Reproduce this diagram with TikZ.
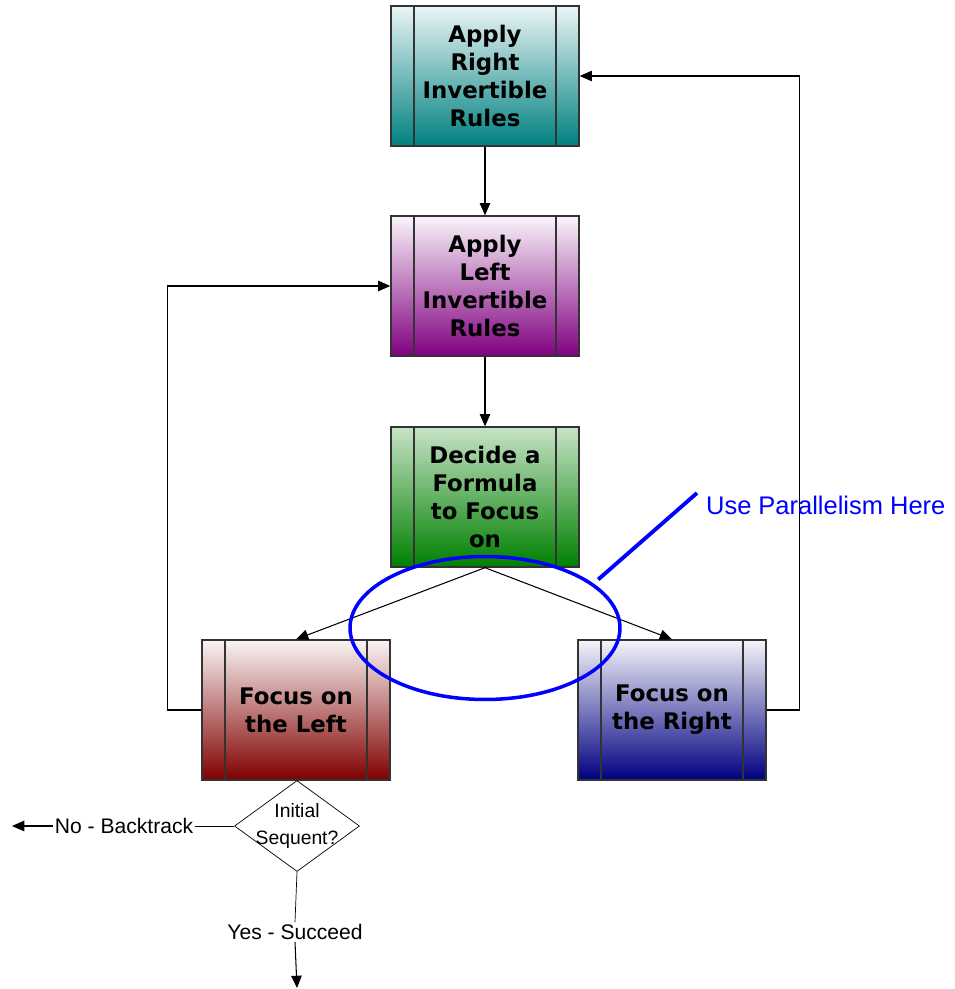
\documentclass[tikz,border=0pt]{standalone}
\usepackage{fontspec}
\setmainfont{Liberation Sans}
\newfontfamily\boxfont{DejaVu Sans}
\usetikzlibrary{arrows.meta,positioning,shapes.geometric}
\definecolor{ruleTeal}{HTML}{008080}
\definecolor{rulePurple}{HTML}{800080}
\definecolor{ruleGreen}{HTML}{008000}
\definecolor{ruleRed}{HTML}{800000}
\definecolor{ruleNavy}{HTML}{000080}
\definecolor{noteBlue}{HTML}{0000FF}

\begin{document}
\begin{tikzpicture}[x=0.02cm, y=-0.02cm,
  procbox/.style={draw=black!80, line width=0.8pt, minimum width=3.76cm, minimum height=2.8cm, align=center,
    font=\boxfont\bfseries\fontsize{13}{16}\selectfont,
    path picture={\draw[black!80, line width=0.8pt]
      ([xshift=0.46cm]path picture bounding box.north west) -- ([xshift=0.46cm]path picture bounding box.south west)
      ([xshift=-0.46cm]path picture bounding box.north east) -- ([xshift=-0.46cm]path picture bounding box.south east);}},
  flow/.style={-{Triangle[length=7pt,width=6pt]}, line width=0.6pt},
  smalltext/.style={inner sep=1pt, font=\fontsize{12}{14}\selectfont}]
\useasboundingbox (0,0) rectangle (955,989);
% the rule boxes
\node[procbox, top color=ruleTeal!8, bottom color=ruleTeal] (rightinv) at (485,76) {Apply\\Right\\Invertible\\Rules};
\node[procbox, top color=rulePurple!4, bottom color=rulePurple] (leftinv) at (485,286) {Apply\\Left\\Invertible\\Rules};
\node[procbox, top color=ruleGreen!22, bottom color=ruleGreen] (decide) at (485,497) {Decide a\\Formula\\to Focus\\on};
\node[procbox, top color=ruleRed!4, bottom color=ruleRed] (focusL) at (296,710) {Focus on\\the Left};
\node[procbox, top color=ruleNavy!4, bottom color=ruleNavy] (focusR) at (672,710) {Focus on\\the Right};
% initial sequent test
\node[draw, diamond, aspect=1.36, inner sep=-6pt, minimum width=2.5cm, minimum height=1.82cm, align=center,
  font=\fontsize{11}{15}\selectfont] (initial) at (297,826) {Initial\\Sequent?};
\node[smalltext] (backtrack) at (124,826) {No - Backtrack};
\node[smalltext] (succeed) at (295,932) {Yes - Succeed};
\coordinate (btend) at (12,826);
\coordinate (scend) at (297,988);
% connectors
\draw[flow] (rightinv) -- (leftinv);
\draw[flow] (leftinv) -- (decide);
\draw[flow] (decide.south) -- (focusL.north);
\draw[flow] (decide.south) -- (focusR.north);
\draw[flow] (focusR.east) -- ++(33,0) |- (rightinv.east);
\draw[flow] (focusL.west) -- ++(-34,0) |- (leftinv.west);
\draw (initial.west) -- (backtrack.east);
\draw[flow] (backtrack.west) -- (btend);
\draw (initial.south) -- (succeed.north);
\draw[flow] (succeed.south) -- (scend);
% note
\node[draw=noteBlue, line width=2pt, ellipse, minimum width=5.4cm, minimum height=2.86cm] (parallel) at (485,628) {};
\node[anchor=west, text=noteBlue, inner sep=1pt, font=\fontsize{14.5}{17}\selectfont] (note) at (704,505) {Use Parallelism Here};
\coordinate (notehook) at (697,493);
\draw[noteBlue, line width=2.2pt] ([shift={(6,-3)}]parallel.23) -- (notehook);
\end{tikzpicture}
\end{document}
